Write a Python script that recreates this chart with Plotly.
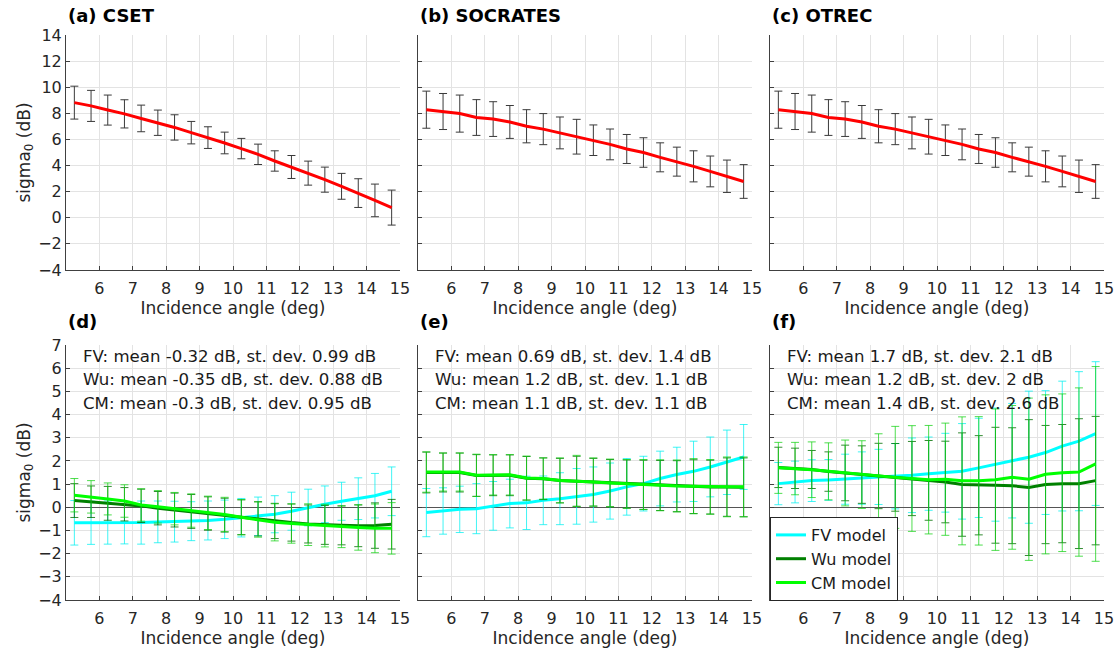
import plotly.graph_objects as go
from plotly.subplots import make_subplots

# Incidence-angle bin centres (deg)
angles = [5.25, 5.75, 6.25, 6.75, 7.25, 7.75, 8.25, 8.75, 9.25, 9.75,
          10.25, 10.75, 11.25, 11.75, 12.25, 12.75, 13.25, 13.75, 14.25, 14.75]

# Observed sigma0 (dB): bin mean and standard deviation per campaign
cset_mean = [8.82, 8.57, 8.25, 7.96, 7.61, 7.28, 6.92, 6.52, 6.14, 5.73,
             5.30, 4.86, 4.35, 3.89, 3.42, 2.92, 2.41, 1.89, 1.33, 0.78]
cset_std = [1.26, 1.19, 1.15, 1.08, 1.02, 0.97, 0.97, 0.86, 0.83, 0.83,
            0.78, 0.78, 0.78, 0.88, 0.92, 0.96, 0.99, 1.10, 1.25, 1.34]

socrates_mean = [8.28, 8.14, 7.98, 7.68, 7.56, 7.34, 7.01, 6.79, 6.50, 6.21,
                 5.94, 5.62, 5.27, 5.00, 4.63, 4.30, 3.94, 3.55, 3.18, 2.78]
socrates_std = [1.42, 1.38, 1.42, 1.37, 1.33, 1.26, 1.27, 1.19, 1.22, 1.33,
                1.17, 1.18, 1.11, 1.13, 1.11, 1.11, 1.19, 1.18, 1.24, 1.29]

otrec_mean = [8.28, 8.14, 7.98, 7.68, 7.56, 7.34, 7.01, 6.79, 6.50, 6.21,
              5.94, 5.62, 5.27, 5.00, 4.63, 4.30, 3.94, 3.55, 3.18, 2.78]
otrec_std = [1.42, 1.38, 1.42, 1.37, 1.33, 1.26, 1.27, 1.19, 1.22, 1.33,
             1.17, 1.18, 1.11, 1.13, 1.11, 1.11, 1.19, 1.18, 1.24, 1.29]

# Model minus observation differences (dB), CSET
cset_fv_mean = [-0.67, -0.67, -0.66, -0.66, -0.66, -0.63, -0.62, -0.60, -0.57, -0.52,
                -0.45, -0.39, -0.30, -0.17, -0.01, 0.13, 0.26, 0.37, 0.50, 0.69]
cset_fv_std = [0.96, 0.93, 0.93, 0.92, 0.93, 0.90, 0.88, 0.84, 0.84, 0.83,
               0.83, 0.83, 0.80, 0.82, 0.79, 0.79, 0.82, 0.90, 0.96, 1.05]
cset_wu_mean = [0.29, 0.24, 0.17, 0.13, 0.06, -0.04, -0.12, -0.18, -0.27, -0.34,
                -0.43, -0.50, -0.59, -0.66, -0.72, -0.76, -0.78, -0.80, -0.79, -0.73]
cset_wu_std = [0.73, 0.68, 0.73, 0.72, 0.72, 0.72, 0.73, 0.73, 0.72, 0.73,
               0.75, 0.74, 0.76, 0.80, 0.82, 0.84, 0.84, 0.90, 0.98, 1.07]
cset_cm_mean = [0.52, 0.45, 0.36, 0.27, 0.10, 0.02, -0.06, -0.14, -0.24, -0.31,
                -0.43, -0.53, -0.65, -0.70, -0.75, -0.79, -0.84, -0.87, -0.91, -0.91]
cset_cm_std = [0.72, 0.70, 0.69, 0.70, 0.70, 0.70, 0.70, 0.72, 0.72, 0.74,
               0.76, 0.76, 0.80, 0.85, 0.90, 0.92, 0.90, 0.98, 1.05, 1.11]

# SOCRATES
soc_fv_mean = [-0.23, -0.16, -0.09, -0.06, 0.06, 0.16, 0.19, 0.30, 0.37, 0.47,
               0.55, 0.70, 0.88, 1.02, 1.24, 1.41, 1.55, 1.74, 1.94, 2.17]
soc_fv_std = [1.04, 1.00, 1.00, 1.08, 1.05, 1.05, 1.15, 1.05, 1.12, 1.20,
              1.19, 1.21, 1.22, 1.18, 1.18, 1.18, 1.30, 1.29, 1.39, 1.40]
soc_wu_mean = [1.50, 1.50, 1.50, 1.37, 1.38, 1.38, 1.25, 1.23, 1.15, 1.12,
               1.08, 1.04, 1.00, 0.97, 0.94, 0.91, 0.89, 0.87, 0.87, 0.86]
soc_wu_std = [0.88, 0.84, 0.84, 0.90, 0.88, 0.88, 0.94, 0.90, 0.96, 1.08,
              1.03, 1.02, 1.04, 1.06, 1.08, 1.10, 1.16, 1.16, 1.26, 1.27]
soc_cm_mean = [1.52, 1.52, 1.52, 1.38, 1.40, 1.40, 1.26, 1.24, 1.16, 1.14,
               1.09, 1.05, 1.01, 0.98, 0.95, 0.92, 0.91, 0.88, 0.88, 0.88]
soc_cm_std = [0.87, 0.82, 0.82, 0.91, 0.87, 0.87, 0.95, 0.89, 0.97, 1.10,
              1.04, 1.03, 1.05, 1.08, 1.10, 1.12, 1.19, 1.18, 1.29, 1.29]

# OTREC
otr_fv_mean = [1.02, 1.09, 1.15, 1.18, 1.21, 1.26, 1.31, 1.34, 1.38, 1.45,
               1.49, 1.55, 1.70, 1.84, 2.01, 2.16, 2.36, 2.64, 2.85, 3.18]
otr_fv_std = [0.91, 0.90, 0.90, 0.88, 1.08, 1.13, 1.19, 1.41, 1.61, 1.58,
              1.70, 2.06, 2.14, 2.44, 2.47, 2.85, 2.67, 2.80, 3.00, 3.10]
otr_wu_mean = [1.72, 1.68, 1.63, 1.54, 1.48, 1.41, 1.35, 1.29, 1.24, 1.16,
               1.09, 0.98, 0.95, 0.95, 0.93, 0.85, 0.98, 1.02, 1.02, 1.15]
otr_wu_std = [0.87, 0.87, 0.82, 0.85, 1.20, 1.24, 1.41, 1.46, 1.60, 1.72,
              1.76, 2.23, 2.14, 2.50, 2.50, 2.93, 2.55, 2.55, 2.80, 2.77]
otr_cm_mean = [1.70, 1.67, 1.62, 1.55, 1.48, 1.41, 1.35, 1.29, 1.24, 1.19,
               1.21, 1.14, 1.14, 1.19, 1.29, 1.21, 1.42, 1.49, 1.52, 1.87]
otr_cm_std = [1.10, 1.13, 1.20, 1.23, 1.42, 1.46, 1.82, 2.20, 2.28, 2.34,
              2.42, 2.76, 2.77, 3.05, 3.10, 3.50, 3.43, 3.40, 3.63, 4.20]

top_titles = ["(a) CSET", "(b) SOCRATES", "(c) OTREC"]
bottom_titles = ["(d)", "(e)", "(f)"]
stats_text = [
    ["FV: mean -0.32 dB, st. dev. 0.99 dB",
     "Wu: mean -0.35 dB, st. dev. 0.88 dB",
     "CM: mean -0.3 dB, st. dev. 0.95 dB"],
    ["FV: mean 0.69 dB, st. dev. 1.4 dB",
     "Wu: mean 1.2 dB, st. dev. 1.1 dB",
     "CM: mean 1.1 dB, st. dev. 1.1 dB"],
    ["FV: mean 1.7 dB, st. dev. 2.1 dB",
     "Wu: mean 1.2 dB, st. dev. 2 dB",
     "CM: mean 1.4 dB, st. dev. 2.6 dB"],
]
model_names = ["FV model", "Wu model", "CM model"]
x_ticks = [6, 7, 8, 9, 10, 11, 12, 13, 14, 15]
top_y_ticks = [-4, -2, 0, 2, 4, 6, 8, 10, 12, 14]
bottom_y_ticks = [-4, -3, -2, -1, 0, 1, 2, 3, 4, 5, 6, 7]

W, H = 1118, 650
FONT = "DejaVu Sans"
AX = "#404040"
GRID = "#e3e3e3"
TXT = "#262626"

col_px = [(66, 400), (418, 752), (770, 1104)]
row_px = [(35, 270), (345, 600)]


def fx(px):
    return px / W


def fy(py):
    return 1 - py / H


fig = make_subplots(rows=2, cols=3)

obs = [(cset_mean, cset_std), (socrates_mean, socrates_std), (otrec_mean, otrec_std)]
for c, (m, s) in enumerate(obs, start=1):
    fig.add_trace(go.Scatter(
        x=angles, y=m, mode="lines", showlegend=False,
        line=dict(color="#ff0000", width=3),
        error_y=dict(type="data", array=s, visible=True, color="#3a3a3a",
                     thickness=1, width=4),
    ), row=1, col=c)

model_colors = ["#00ffff", "#008000", "#00ff00"]
bar_colors = ["rgba(0,240,240,0.75)", "rgba(0,110,0,0.8)", "rgba(20,210,20,0.75)"]
diffs = [
    [(cset_fv_mean, cset_fv_std), (cset_wu_mean, cset_wu_std), (cset_cm_mean, cset_cm_std)],
    [(soc_fv_mean, soc_fv_std), (soc_wu_mean, soc_wu_std), (soc_cm_mean, soc_cm_std)],
    [(otr_fv_mean, otr_fv_std), (otr_wu_mean, otr_wu_std), (otr_cm_mean, otr_cm_std)],
]
for c, group in enumerate(diffs, start=1):
    for k, (m, s) in enumerate(group):
        fig.add_trace(go.Scatter(
            x=angles, y=m, mode="lines", name=model_names[k],
            showlegend=(c == 3),
            line=dict(color=model_colors[k], width=3),
            error_y=dict(type="data", array=s, visible=True, color=bar_colors[k],
                         thickness=1, width=4),
        ), row=2, col=c)

axis_common = dict(
    showline=True, linecolor=AX, linewidth=1, mirror=False,
    ticks="inside", ticklen=4, tickcolor=AX, tickwidth=1,
    showgrid=True, gridcolor=GRID, gridwidth=1,
    tickfont=dict(family=FONT, size=16, color=TXT),
    automargin=False,
)

for r in (1, 2):
    for c in (1, 2, 3):
        x0, x1 = col_px[c - 1]
        y0, y1 = row_px[r - 1]
        fig.update_xaxes(
            domain=[fx(x0), fx(x1)], range=[5, 15], tickvals=x_ticks,
            ticklabelstandoff=4,
            title=dict(text="Incidence angle (deg)", standoff=4,
                       font=dict(family=FONT, size=17, color=TXT)),
            zeroline=False, **axis_common, row=r, col=c)
        if r == 1:
            yk = dict(range=[-4, 14], tickvals=top_y_ticks, zeroline=False)
        else:
            yk = dict(range=[-4, 7], tickvals=bottom_y_ticks, zeroline=True,
                      zerolinecolor="#555555", zerolinewidth=1)
        fig.update_yaxes(
            domain=[fy(y1), fy(y0)], showticklabels=(c == 1),
            title=dict(text="sigma<sub>0</sub> (dB)" if c == 1 else "", standoff=3,
                       font=dict(family=FONT, size=17, color=TXT)),
            **yk, **axis_common, row=r, col=c)

annotations = []
for c in range(3):
    x0 = col_px[c][0]
    annotations.append(dict(
        text="<b>%s</b>" % top_titles[c], x=fx(x0), y=fy(16), xref="paper", yref="paper",
        xanchor="left", yanchor="middle", showarrow=False,
        font=dict(family=FONT, size=18, color="#000000")))
    annotations.append(dict(
        text="<b>%s</b>" % bottom_titles[c], x=fx(x0), y=fy(322), xref="paper", yref="paper",
        xanchor="left", yanchor="middle", showarrow=False,
        font=dict(family=FONT, size=18, color="#000000")))
    for i, line in enumerate(stats_text[c]):
        annotations.append(dict(
            text=line, x=fx(x0 + 15), y=fy(356 + 23.5 * i), xref="paper", yref="paper",
            xanchor="left", yanchor="middle", showarrow=False,
            font=dict(family=FONT, size=16.6, color="#1a1a1a")))

fig.update_layout(
    width=W, height=H,
    margin=dict(l=0, r=0, t=0, b=0),
    paper_bgcolor="white", plot_bgcolor="white",
    font=dict(family=FONT, color=TXT),
    annotations=annotations,
    legend=dict(
        x=fx(770), y=fy(601), xanchor="left", yanchor="bottom",
        bgcolor="white", bordercolor="#262626", borderwidth=1,
        font=dict(family=FONT, size=16, color="#1a1a1a"),
        itemwidth=30, tracegroupgap=0,
    ),
)

fig.write_html("out.html")
